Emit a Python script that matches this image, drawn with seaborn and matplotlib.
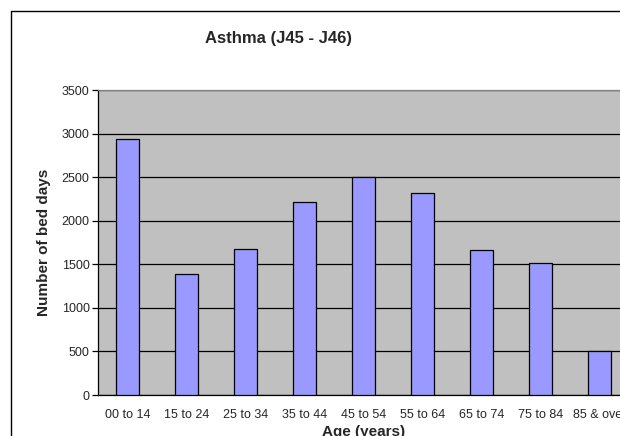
import matplotlib
matplotlib.use("Agg")
import matplotlib.pyplot as plt
from matplotlib.lines import Line2D
import seaborn as sns
import pandas as pd

# Bed days by age group
age_groups = ["00 to 14", "15 to 24", "25 to 34", "35 to 44", "45 to 54",
              "55 to 64", "65 to 74", "75 to 84", "85 & over"]
bed_days = [2940, 1390, 1670, 2210, 2500, 2320, 1660, 1510, 510]
y_ticks = [0, 500, 1000, 1500, 2000, 2500, 3000, 3500]

df = pd.DataFrame({"age": age_groups, "days": bed_days})

sns.set_theme(style="white")
plt.rcParams["font.family"] = ["Liberation Sans", "DejaVu Sans"]

W, H = 620, 436
fig = plt.figure(figsize=(W / 100, H / 100), dpi=100)
fig.patch.set_facecolor("white")

# plot area (runs past the right edge of the canvas)
left, right, top, bottom = 98, 629, 90, 395
ax = fig.add_axes([left / W, 1 - bottom / H, (right - left) / W, (bottom - top) / H])
ax.set_facecolor("#C0C0C0")

sns.barplot(data=df, x="age", y="days", ax=ax, color="#9999FF",
            saturation=1, width=0.4, edgecolor="black", linewidth=0.9, zorder=3)

ax.set_xlim(-0.5, len(age_groups) - 0.5)
ax.set_ylim(0, 3500)
ax.set_yticks(y_ticks)
ax.set_yticklabels([str(v) for v in y_ticks], fontsize=9)
ax.yaxis.grid(True, color="black", linewidth=0.9, zorder=1)
ax.set_axisbelow(True)

ax.set_xticks(range(len(age_groups)))
ax.set_xticklabels(age_groups, fontsize=9)
ax.set_xticks([i - 0.5 for i in range(len(age_groups) + 1)], minor=True)
ax.tick_params(axis="x", which="major", length=0, pad=10)
ax.tick_params(axis="x", which="minor", length=4, width=0.9, color="black", direction="out")
ax.tick_params(axis="y", which="major", length=4, width=0.9, color="black", direction="out", pad=2, left=True)

for side in ("left", "bottom"):
    ax.spines[side].set_color("black")
    ax.spines[side].set_linewidth(0.9)
ax.spines["top"].set_color("#808080")
ax.spines["top"].set_linewidth(0.9)
ax.spines["right"].set_visible(False)

ax.set_xlabel("Age (years)", fontsize=11, fontweight="bold", labelpad=3)
ax.set_ylabel("Number of bed days", fontsize=11, fontweight="bold", labelpad=8)

fig.text(278.5 / W, 1 - 38 / H, "Asthma (J45 - J46)", fontsize=12,
         fontweight="bold", ha="center", va="center")

# chart frame
fig.add_artist(Line2D([10.5 / W, 10.5 / W], [1 - 11 / H, 0], color="black", linewidth=1))
fig.add_artist(Line2D([10.5 / W, 1], [1 - 11.5 / H, 1 - 11.5 / H], color="black", linewidth=1))

fig.savefig("out.png", dpi=100)
